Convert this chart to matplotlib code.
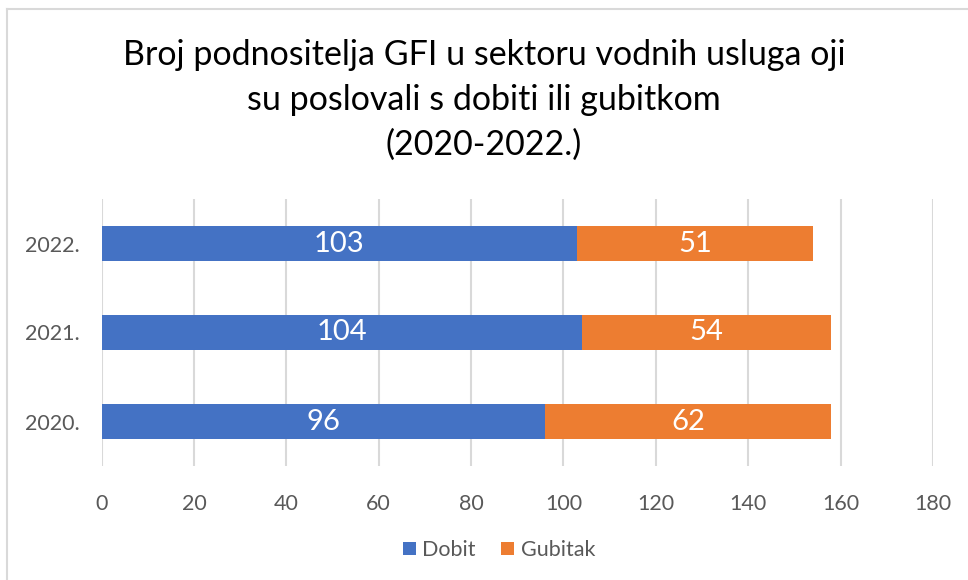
import matplotlib
matplotlib.use("Agg")
import matplotlib.pyplot as plt
from matplotlib.lines import Line2D

plt.rcParams['font.family'] = ['Lato', 'DejaVu Sans']

years = ['2020.', '2021.', '2022.']
dobit = [96, 104, 103]
gubitak = [62, 54, 51]

blue = '#4472C4'
orange = '#ED7D31'
grey_text = '#595959'

fig = plt.figure(figsize=(9.68, 5.8), dpi=100)
ax = fig.add_axes([101.5 / 968, 1 - 466 / 580, (933 - 101.5) / 968, (466 - 199) / 580])

pos = range(len(years))
b1 = ax.barh(pos, dobit, height=0.39, color=blue, label='Dobit', zorder=3)
b2 = ax.barh(pos, gubitak, left=dobit, height=0.39, color=orange, label='Gubitak', zorder=3)
ax.bar_label(b1, label_type='center', color='white', fontsize=21)
ax.bar_label(b2, label_type='center', color='white', fontsize=21)

ax.set_xlim(0, 180)
ax.set_ylim(-0.5, 2.5)
ax.set_xticks(range(0, 181, 20))
ax.set_yticks(list(pos))
ax.set_yticklabels(years)
ax.grid(axis='x', color='#D9D9D9', linewidth=1.5, zorder=0)
ax.tick_params(length=0, labelsize=15.5, colors=grey_text)
ax.tick_params(axis='x', pad=20)
ax.tick_params(axis='y', pad=16)
for s in ax.spines.values():
    s.set_visible(False)

fig.text(0.5, 1 - 100 / 580,
         'Broj podnositelja GFI u sektoru vodnih usluga oji\nsu poslovali s dobiti ili gubitkom\n(2020-2022.)',
         ha='center', va='center', fontsize=24.5, color='black', linespacing=1.5)

fig.legend(handles=[b1, b2], loc='center', bbox_to_anchor=(499 / 968, 1 - 550 / 580),
           ncol=2, frameon=False, fontsize=15.5, labelcolor=grey_text,
           handlelength=0.6, handleheight=0.6, handletextpad=0.3, columnspacing=1.2)

# chart frame
fig.add_artist(Line2D([7 / 968, 1], [1 - 9 / 580, 1 - 9 / 580], color='#D9D9D9', linewidth=1.5))
fig.add_artist(Line2D([7 / 968, 7 / 968], [0, 1 - 9 / 580], color='#D9D9D9', linewidth=1.5))

fig.savefig('out.png', dpi=100)
